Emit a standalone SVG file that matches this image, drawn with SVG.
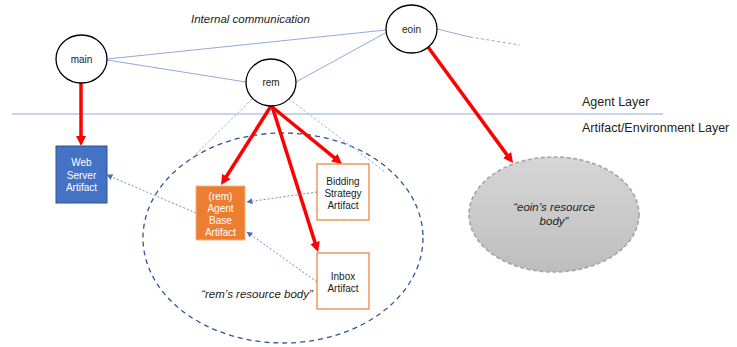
<svg xmlns="http://www.w3.org/2000/svg" width="737" height="347" viewBox="0 0 737 347">
<style>
text{font-family:"Liberation Sans",Arial,sans-serif}
.agent{fill:#fff;stroke:#000;stroke-width:1.3}
.lbl{font-size:10px;fill:#222;text-anchor:middle}
.wlbl{font-size:10px;fill:#fff;text-anchor:middle}
.it{font-style:italic;font-size:11.5px;fill:#222}
.layer{font-size:12.5px;fill:#222}
.comm{stroke:#8FAADC;stroke-width:1;fill:none}
.red{stroke:#FF0000;stroke-width:3.5;fill:none;marker-end:url(#redArrow)}
.dep{stroke:#4472C4;stroke-width:0.8;stroke-dasharray:2 2;fill:none;marker-end:url(#blueArrow)}
.proj{stroke:#8FAADC;stroke-width:0.9;stroke-dasharray:2.5 2;fill:none}
</style>
<defs>
<marker id="redArrow" markerUnits="userSpaceOnUse" markerWidth="10" markerHeight="10" viewBox="0 0 10 10" refX="2" refY="5" orient="auto">
<path d="M0,0 L10,5 L0,10 z" fill="#FF0000"/>
</marker>
<marker id="blueArrow" markerUnits="userSpaceOnUse" markerWidth="6" markerHeight="6" viewBox="0 0 10 10" refX="9" refY="5" orient="auto">
<path d="M0,0 L10,5 L0,10 z" fill="#4472C4"/>
</marker>
<linearGradient id="grey" x1="0" y1="0" x2="0" y2="1">
<stop offset="0" stop-color="#d6d6d6"/>
<stop offset="1" stop-color="#bdbdbd"/>
</linearGradient>
</defs>

<rect width="737" height="347" fill="#fff"/>

<!-- layer separator and labels -->
<line x1="12" y1="114" x2="663" y2="114" stroke="#8FAADC" stroke-width="1.2"/>
<text class="layer" x="582" y="106">Agent Layer</text>
<text class="layer" x="582" y="131.5">Artifact/Environment Layer</text>
<text class="it" x="191" y="23">Internal communication</text>

<!-- resource bodies -->
<g id="rem-body">
<ellipse cx="283" cy="238" rx="140" ry="105" fill="none" stroke="#2F5597" stroke-width="1.3" stroke-dasharray="5 4"/>
<text class="it" x="257" y="298" text-anchor="middle">“rem’s resource body”</text>
</g>
<g id="eoin-body">
<ellipse cx="554" cy="214.5" rx="85" ry="57.5" fill="url(#grey)" stroke="#a5a5a5" stroke-width="1.6" stroke-dasharray="4 2.5"/>
<text class="it" x="554" y="211" text-anchor="middle">“eoin’s resource</text>
<text class="it" x="554" y="224.5" text-anchor="middle">body”</text>
</g>

<!-- connectors -->
<g id="connectors">
<line class="comm" x1="107" y1="59" x2="386" y2="30"/>
<line class="comm" x1="107" y1="60" x2="246" y2="82"/>
<line class="comm" x1="296" y1="82" x2="387" y2="32"/>
<line class="comm" x1="437" y1="29" x2="470" y2="37"/>
<line class="comm" x1="470" y1="37" x2="520" y2="45" stroke-dasharray="3 2.5"/>
<line class="proj" x1="252" y1="99" x2="188" y2="162"/>
<line class="proj" x1="289" y1="99" x2="385" y2="172"/>
<line class="red" x1="81" y1="83" x2="81" y2="138"/>
<line class="red" x1="271" y1="106" x2="225.3" y2="178.2"/>
<line class="red" x1="271" y1="106" x2="335.8" y2="158.9"/>
<line class="red" x1="272" y1="106" x2="315.6" y2="244.4"/>
<line class="red" x1="428" y1="47" x2="508.3" y2="156.6"/>
<line class="dep" x1="196" y1="213" x2="107" y2="175"/>
<line class="dep" x1="317" y1="192" x2="247" y2="202"/>
<line class="dep" x1="317" y1="282" x2="247" y2="232"/>
</g>

<!-- agents -->
<g id="main">
<ellipse class="agent" cx="81.5" cy="59" rx="25.5" ry="24"/>
<text class="lbl" x="81.5" y="63">main</text>
</g>
<g id="rem">
<ellipse class="agent" cx="271" cy="82.5" rx="25" ry="23.5"/>
<text class="lbl" x="271" y="86">rem</text>
</g>
<g id="eoin">
<ellipse class="agent" cx="411.5" cy="29" rx="25.5" ry="24"/>
<text class="lbl" x="411.5" y="32.5">eoin</text>
</g>

<!-- artifacts -->
<g id="web-server">
<rect x="56" y="146" width="51" height="57" fill="#4472C4" stroke="#2F528F" stroke-width="1"/>
<text class="wlbl" x="81.5" y="166">Web</text>
<text class="wlbl" x="81.5" y="178.5">Server</text>
<text class="wlbl" x="81.5" y="191">Artifact</text>
</g>
<g id="agent-base">
<rect x="196" y="186" width="49" height="54" fill="#ED7D31" stroke="#F4B183" stroke-width="1"/>
<text class="wlbl" x="220.5" y="199.5">(rem)</text>
<text class="wlbl" x="220.5" y="212">Agent</text>
<text class="wlbl" x="220.5" y="224">Base</text>
<text class="wlbl" x="220.5" y="236">Artifact</text>
</g>
<g id="bidding">
<rect x="317" y="164" width="52" height="56" fill="#fff" stroke="#ED7D31" stroke-width="1.2"/>
<text class="lbl" x="343" y="184.5">Bidding</text>
<text class="lbl" x="343" y="197">Strategy</text>
<text class="lbl" x="343" y="209">Artifact</text>
</g>
<g id="inbox">
<rect x="317" y="253" width="52" height="56" fill="#fff" stroke="#ED7D31" stroke-width="1.2"/>
<text class="lbl" x="343" y="279.5">Inbox</text>
<text class="lbl" x="343" y="292">Artifact</text>
</g>
</svg>
